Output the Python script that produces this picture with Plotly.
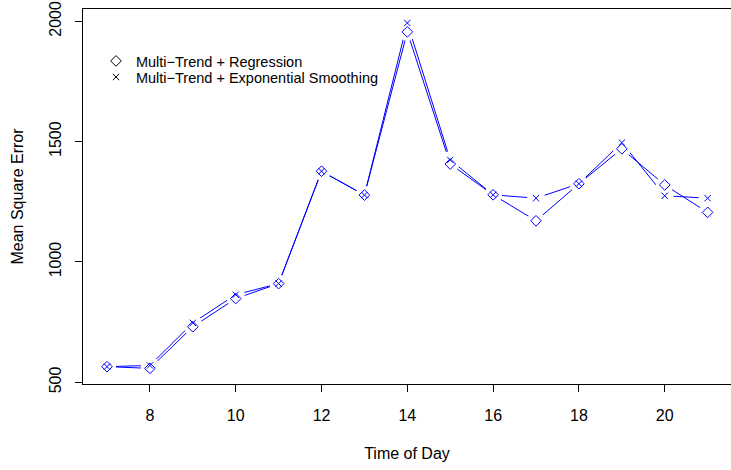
import plotly.graph_objects as go

hours = [7, 8, 9, 10, 11, 12, 13, 14, 15, 16, 17, 18, 19, 20, 21]
mse_regression = [565, 558, 731, 848, 910, 1377, 1278, 1956, 1407, 1279, 1171, 1325, 1470, 1320, 1206]
mse_expsmooth = [565, 570, 747, 864, 910, 1377, 1278, 1993, 1424, 1279, 1265, 1325, 1496, 1275, 1265]
series_names = ["Multi\u2212Trend + Regression", "Multi\u2212Trend + Exponential Smoothing"]
x_ticks = [8, 10, 12, 14, 16, 18, 20]
y_ticks = [500, 1000, 1500, 2000]

BLUE = "#0000FF"
FONT = "Liberation Sans, Arial, Helvetica, sans-serif"

fig = go.Figure()
# connecting lines
for ys in (mse_regression, mse_expsmooth):
    fig.add_trace(go.Scatter(x=hours, y=ys, mode="lines", line=dict(color=BLUE, width=1),
                             showlegend=False, hoverinfo="skip"))
# white gaps around points (R type="b")
for ys in (mse_regression, mse_expsmooth):
    fig.add_trace(go.Scatter(x=hours, y=ys, mode="markers",
                             marker=dict(symbol="circle", size=18, color="white", line=dict(width=0)),
                             showlegend=False, hoverinfo="skip"))
# point symbols
fig.add_trace(go.Scatter(x=hours, y=mse_regression, mode="markers",
                         marker=dict(symbol="diamond-open", size=8.2, color=BLUE, line=dict(width=1, color=BLUE)),
                         showlegend=False))
fig.add_trace(go.Scatter(x=hours, y=mse_expsmooth, mode="markers",
                         marker=dict(symbol="x-thin-open", size=6.3, color=BLUE, line=dict(width=1, color=BLUE)),
                         showlegend=False))
# legend entries (black symbols)
fig.add_trace(go.Scatter(x=[None], y=[None], mode="markers", name=series_names[0], legend="legend",
                         marker=dict(symbol="diamond-open", size=8.2, color="black", line=dict(width=1, color="black"))))
fig.add_trace(go.Scatter(x=[None], y=[None], mode="markers", name=series_names[1], legend="legend2",
                         marker=dict(symbol="x-thin-open", size=6.3, color="black", line=dict(width=1, color="black"))))

leg_common = dict(xanchor="left", yanchor="top", bgcolor="rgba(0,0,0,0)",
                  font=dict(size=14.5, family=FONT, color="black"), itemwidth=30)
fig.update_layout(
    width=731, height=470,
    margin=dict(l=83, r=0, t=9, b=86, autoexpand=False),
    plot_bgcolor="white", paper_bgcolor="white",
    font=dict(family=FONT, size=16, color="black"),
    legend=dict(x=0.02, y=0.904, **leg_common),
    legend2=dict(x=0.02, y=0.8613, **leg_common),
)
fig.update_xaxes(
    range=[6.44, 21.545], tickvals=x_ticks, ticktext=[str(v) for v in x_ticks],
    showgrid=False, zeroline=False, showline=True, linecolor="black", linewidth=1, mirror=True,
    ticks="outside", ticklen=7, tickcolor="black", tickwidth=1,
    tickfont=dict(size=16), ticklabelstandoff=10,
    title=dict(text="Time of Day", font=dict(size=16), standoff=24), automargin=False,
)
fig.update_yaxes(
    range=[493, 2051], tickvals=y_ticks, ticktext=[str(v) for v in y_ticks],
    showgrid=False, zeroline=False, showline=True, linecolor="black", linewidth=1, mirror=False,
    ticks="outside", ticklen=7, tickcolor="black", tickwidth=1,
    tickfont=dict(size=16), tickangle=-90, ticklabelstandoff=8,
    title=dict(text="Mean Square Error", font=dict(size=16), standoff=18), automargin=False,
)

fig.write_html("out.html")
